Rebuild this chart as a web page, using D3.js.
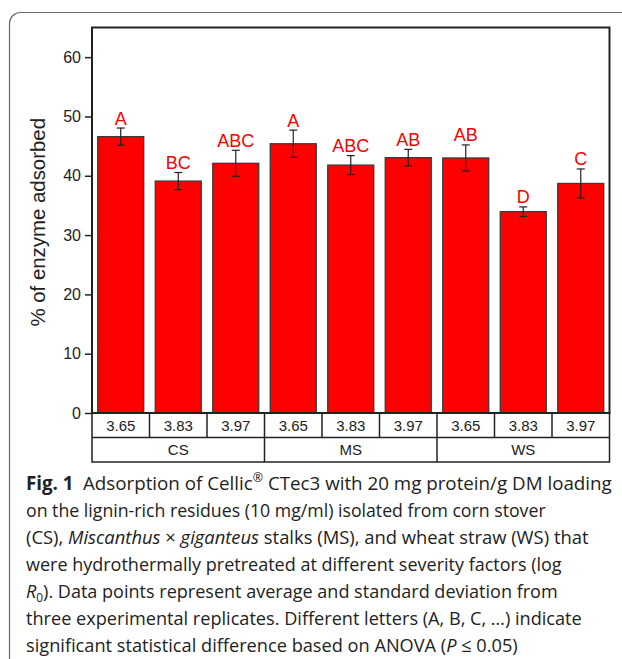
<!DOCTYPE html>
<html>
<head>
<meta charset="utf-8">
<script src="https://cdn.jsdelivr.net/npm/d3@7"></script>
<style>
  html, body { margin: 0; padding: 0; background: #fff; }
  svg { display: block; }
</style>
</head>
<body>
<svg id="chart" width="622" height="659"></svg>
<script>
// ---- data ----
const groups = ["CS", "MS", "WS"];
const severities = ["3.65", "3.83", "3.97"];
const means = [46.6, 39.1, 42.1, 45.4, 41.8, 43.05, 43.0, 33.95, 38.7];
const sds = [1.45, 1.45, 2.2, 2.3, 1.6, 1.4, 2.2, 0.8, 2.45];
const letters = ["A", "BC", "ABC", "A", "ABC", "AB", "AB", "D", "C"];
const yTicks = [0, 10, 20, 30, 40, 50, 60];
const yLabel = "% of enzyme adsorbed";

const bars = [];
groups.forEach((g, gi) => severities.forEach((s, si) => {
  const i = gi * severities.length + si;
  bars.push({ i, group: g, sev: s, mean: means[i], sd: sds[i], letter: letters[i] });
}));

// ---- layout ----
const svg = d3.select("#chart");
const L = 92, R = 609.5, T = 27.5, B = 413;
const rowH = 24.5;
const axisFont = "'Liberation Sans', Arial, Helvetica, sans-serif";

// card border
svg.append("path")
  .attr("d", "M9.5,659 L9.5,23 A11,11 0 0 1 20.5,12.5 L622,12.5")
  .attr("fill", "none").attr("stroke", "#6a6a6a").attr("stroke-width", 1.2);

const x = d3.scaleBand().domain(bars.map(d => d.i)).range([L, R])
  .paddingInner(0.2).paddingOuter(0.1);
const y = d3.scaleLinear().domain([0, 65]).range([B, T]);

// bars
svg.append("g").selectAll("rect").data(bars).join("rect")
  .attr("x", d => x(d.i)).attr("width", x.bandwidth())
  .attr("y", d => y(d.mean)).attr("height", d => y(0) - y(d.mean))
  .attr("fill", "#ff0000").attr("stroke", "#3a3a3a").attr("stroke-width", 1.3);

// error bars
const eb = svg.append("g").attr("stroke", "#222").attr("stroke-width", 1.2);
bars.forEach(d => {
  const cx = x(d.i) + x.bandwidth() / 2;
  const y1 = y(d.mean + d.sd), y2 = y(d.mean - d.sd);
  eb.append("line").attr("x1", cx).attr("x2", cx).attr("y1", y1).attr("y2", y2);
  eb.append("line").attr("x1", cx - 4).attr("x2", cx + 4).attr("y1", y1).attr("y2", y1);
  eb.append("line").attr("x1", cx - 4).attr("x2", cx + 4).attr("y1", y2).attr("y2", y2);
});

// letters
svg.append("g").selectAll("text").data(bars).join("text")
  .attr("x", d => x(d.i) + x.bandwidth() / 2)
  .attr("y", d => y(d.mean + d.sd) - 3.5)
  .attr("text-anchor", "middle")
  .attr("font-family", axisFont).attr("font-size", 18)
  .attr("fill", "#ff0000")
  .text(d => d.letter);

// y axis
const yAxis = svg.append("g").attr("transform", `translate(${L},0)`)
  .call(d3.axisLeft(y).tickValues(yTicks).tickSize(7).tickPadding(4));
yAxis.select(".domain").remove();
yAxis.selectAll(".tick line").attr("stroke", "#222").attr("stroke-width", 1.5);
yAxis.selectAll(".tick text").attr("font-family", axisFont).attr("font-size", 16).attr("fill", "#222");

// frame
svg.append("rect").attr("x", L).attr("y", T).attr("width", R - L).attr("height", B - T)
  .attr("fill", "none").attr("stroke", "#222").attr("stroke-width", 2);

// y label
svg.append("text")
  .attr("transform", `translate(45,${(T + B) / 2 + 2}) rotate(-90)`)
  .attr("text-anchor", "middle")
  .attr("font-family", axisFont).attr("font-size", 20.4).attr("fill", "#222")
  .text(yLabel);

// table under the axis
const tbl = svg.append("g").attr("stroke", "#222").attr("stroke-width", 1.5).attr("fill", "none");
tbl.append("rect").attr("x", L).attr("y", B).attr("width", R - L).attr("height", rowH * 2);
tbl.append("line").attr("x1", L).attr("x2", R).attr("y1", B + rowH).attr("y2", B + rowH);
const step = x.step();
bars.forEach(d => {
  if (d.i > 0) {
    const bx = L + d.i * step;
    const isGroup = d.i % severities.length === 0;
    tbl.append("line").attr("x1", bx).attr("x2", bx)
      .attr("y1", B).attr("y2", isGroup ? B + rowH * 2 : B + rowH);
  }
});
svg.append("g").selectAll("text").data(bars).join("text")
  .attr("x", d => L + (d.i + 0.5) * step)
  .attr("y", B + rowH / 2 + 5.5)
  .attr("text-anchor", "middle")
  .attr("font-family", axisFont).attr("font-size", 15).attr("fill", "#222")
  .text(d => d.sev);
svg.append("g").selectAll("text").data(groups).join("text")
  .attr("x", (g, gi) => L + (gi * severities.length + severities.length / 2) * step)
  .attr("y", B + rowH * 1.5 + 5.5)
  .attr("text-anchor", "middle")
  .attr("font-family", axisFont).attr("font-size", 15).attr("fill", "#222")
  .text(g => g);

// caption
const capLines = [
  [{t: "Fig. 1", w: "bold"}, {t: "\u2002Adsorption of Cellic"}, {t: "®", sup: true}, {t: " CTec3 with 20 mg protein/g DM loading"}],
  [{t: "on the lignin-rich residues (10 mg/ml) isolated from corn stover"}],
  [{t: "(CS), "}, {t: "Miscanthus", i: true}, {t: " × "}, {t: "giganteus", i: true}, {t: " stalks (MS), and wheat straw (WS) that"}],
  [{t: "were hydrothermally pretreated at different severity factors (log"}],
  [{t: "R", i: true}, {t: "0", sub: true}, {t: "). Data points represent average and standard deviation from"}],
  [{t: "three experimental replicates. Different letters (A, B, C, …) indicate"}],
  [{t: "significant statistical difference based on ANOVA ("}, {t: "P", i: true}, {t: " ≤ 0.05)"}]
];
// target rendered widths of each caption line (layout only)
const capWidths = [586, 520, 563, 536, 532, 556, 492];
const capX = 26, capY0 = 490, capDY = 27;
const cap = svg.append("g");
capLines.forEach((parts, li) => {
  const t = cap.append("text")
    .attr("x", 0).attr("y", capY0 + li * capDY)
    .attr("font-family", "'Open Sans', 'Noto Sans', sans-serif")
    .attr("font-size", 19).attr("fill", "#222");
  let restore = null;
  parts.forEach(p => {
    const ts = t.append("tspan").text(p.t);
    if (restore !== null) { ts.attr("dy", restore); restore = null; }
    if (p.w) ts.attr("font-weight", p.w);
    if (p.i) ts.attr("font-style", "italic");
    if (p.sup) { ts.attr("font-size", 12.5).attr("dy", -7.5); restore = 7.5; }
    if (p.sub) { ts.attr("font-size", 12.5).attr("dy", 4); restore = -4; }
  });
  const w = t.node().getComputedTextLength();
  const sx = capWidths[li] / w;
  t.attr("transform", `translate(${capX},0) scale(${sx},1)`);
});
</script>
</body>
</html>
